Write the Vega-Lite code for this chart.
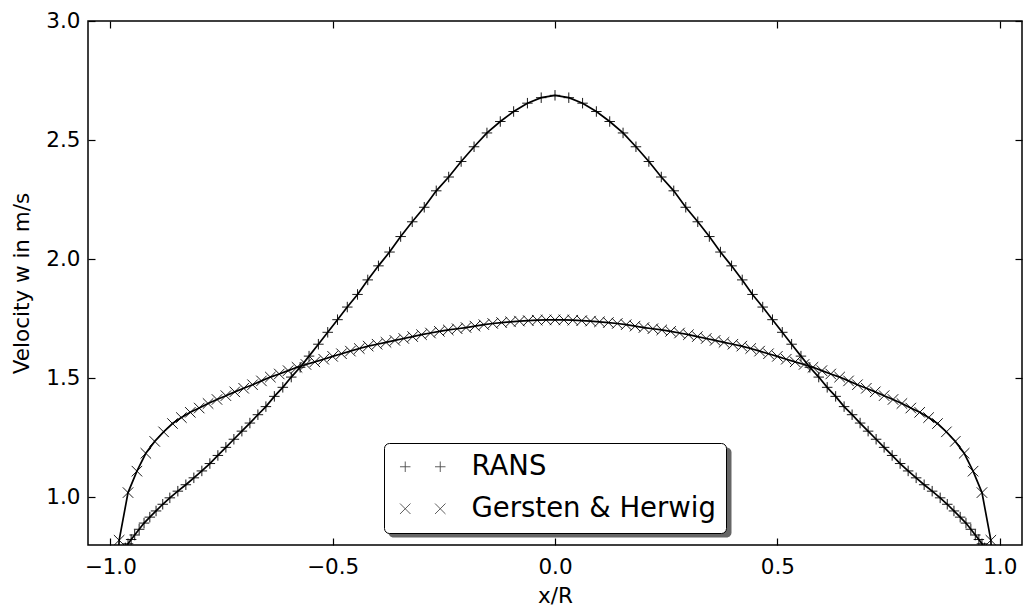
{
  "$schema": "https://vega.github.io/schema/vega-lite/v6.json",
  "width": 934,
  "height": 524,
  "autosize": {"type": "none"},
  "padding": {"left": 88, "top": 21, "right": 2, "bottom": 67},
  "background": "white",
  "config": {
    "font": "DejaVu Sans",
    "view": {"stroke": "black", "strokeWidth": 1.5},
    "axis": {"grid": false, "domain": false, "tickColor": "black", "tickSize": -7, "tickWidth": 1.2,
      "labelFont": "DejaVu Sans", "labelFontSize": 21.5, "labelColor": "black",
      "titleFont": "DejaVu Sans", "titleFontSize": 21.5, "titleFontWeight": "normal", "titleColor": "black"},
    "legend": {"title": null, "orient": "none", "padding": 10, "labelFontSize": 27.5, "labelFont": "DejaVu Sans", "labelLimit": 600,
      "symbolSize": 110, "symbolOffset": 15, "labelOffset": 35, "rowPadding": 13, "cornerRadius": 5}
  },
  "data": {"values": [
    {"model": "RANS", "x": -0.975, "w": 0.758},
    {"model": "RANS", "x": -0.971, "w": 0.772},
    {"model": "RANS", "x": -0.966, "w": 0.788},
    {"model": "RANS", "x": -0.960, "w": 0.805},
    {"model": "RANS", "x": -0.953, "w": 0.823},
    {"model": "RANS", "x": -0.945, "w": 0.842},
    {"model": "RANS", "x": -0.935, "w": 0.866},
    {"model": "RANS", "x": -0.924, "w": 0.892},
    {"model": "RANS", "x": -0.911, "w": 0.917},
    {"model": "RANS", "x": -0.897, "w": 0.943},
    {"model": "RANS", "x": -0.882, "w": 0.971},
    {"model": "RANS", "x": -0.866, "w": 0.998},
    {"model": "RANS", "x": -0.848, "w": 1.026},
    {"model": "RANS", "x": -0.830, "w": 1.053},
    {"model": "RANS", "x": -0.812, "w": 1.082},
    {"model": "RANS", "x": -0.794, "w": 1.111},
    {"model": "RANS", "x": -0.776, "w": 1.142},
    {"model": "RANS", "x": -0.758, "w": 1.176},
    {"model": "RANS", "x": -0.740, "w": 1.210},
    {"model": "RANS", "x": -0.722, "w": 1.244},
    {"model": "RANS", "x": -0.704, "w": 1.278},
    {"model": "RANS", "x": -0.686, "w": 1.312},
    {"model": "RANS", "x": -0.668, "w": 1.347},
    {"model": "RANS", "x": -0.650, "w": 1.381},
    {"model": "RANS", "x": -0.631, "w": 1.424},
    {"model": "RANS", "x": -0.612, "w": 1.462},
    {"model": "RANS", "x": -0.593, "w": 1.505},
    {"model": "RANS", "x": -0.573, "w": 1.546},
    {"model": "RANS", "x": -0.553, "w": 1.593},
    {"model": "RANS", "x": -0.532, "w": 1.643},
    {"model": "RANS", "x": -0.511, "w": 1.693},
    {"model": "RANS", "x": -0.489, "w": 1.746},
    {"model": "RANS", "x": -0.467, "w": 1.799},
    {"model": "RANS", "x": -0.444, "w": 1.852},
    {"model": "RANS", "x": -0.421, "w": 1.913},
    {"model": "RANS", "x": -0.397, "w": 1.972},
    {"model": "RANS", "x": -0.372, "w": 2.030},
    {"model": "RANS", "x": -0.347, "w": 2.095},
    {"model": "RANS", "x": -0.321, "w": 2.157},
    {"model": "RANS", "x": -0.294, "w": 2.218},
    {"model": "RANS", "x": -0.267, "w": 2.287},
    {"model": "RANS", "x": -0.239, "w": 2.345},
    {"model": "RANS", "x": -0.211, "w": 2.410},
    {"model": "RANS", "x": -0.182, "w": 2.472},
    {"model": "RANS", "x": -0.153, "w": 2.530},
    {"model": "RANS", "x": -0.123, "w": 2.578},
    {"model": "RANS", "x": -0.093, "w": 2.620},
    {"model": "RANS", "x": -0.062, "w": 2.655},
    {"model": "RANS", "x": -0.031, "w": 2.678},
    {"model": "RANS", "x": 0.0, "w": 2.688},
    {"model": "RANS", "x": 0.031, "w": 2.678},
    {"model": "RANS", "x": 0.062, "w": 2.655},
    {"model": "RANS", "x": 0.093, "w": 2.620},
    {"model": "RANS", "x": 0.123, "w": 2.578},
    {"model": "RANS", "x": 0.153, "w": 2.530},
    {"model": "RANS", "x": 0.182, "w": 2.472},
    {"model": "RANS", "x": 0.211, "w": 2.410},
    {"model": "RANS", "x": 0.239, "w": 2.345},
    {"model": "RANS", "x": 0.267, "w": 2.287},
    {"model": "RANS", "x": 0.294, "w": 2.218},
    {"model": "RANS", "x": 0.321, "w": 2.157},
    {"model": "RANS", "x": 0.347, "w": 2.095},
    {"model": "RANS", "x": 0.372, "w": 2.030},
    {"model": "RANS", "x": 0.397, "w": 1.972},
    {"model": "RANS", "x": 0.421, "w": 1.913},
    {"model": "RANS", "x": 0.444, "w": 1.852},
    {"model": "RANS", "x": 0.467, "w": 1.799},
    {"model": "RANS", "x": 0.489, "w": 1.746},
    {"model": "RANS", "x": 0.511, "w": 1.693},
    {"model": "RANS", "x": 0.532, "w": 1.643},
    {"model": "RANS", "x": 0.553, "w": 1.593},
    {"model": "RANS", "x": 0.573, "w": 1.546},
    {"model": "RANS", "x": 0.593, "w": 1.505},
    {"model": "RANS", "x": 0.612, "w": 1.462},
    {"model": "RANS", "x": 0.631, "w": 1.424},
    {"model": "RANS", "x": 0.650, "w": 1.381},
    {"model": "RANS", "x": 0.668, "w": 1.347},
    {"model": "RANS", "x": 0.686, "w": 1.312},
    {"model": "RANS", "x": 0.704, "w": 1.278},
    {"model": "RANS", "x": 0.722, "w": 1.244},
    {"model": "RANS", "x": 0.740, "w": 1.210},
    {"model": "RANS", "x": 0.758, "w": 1.176},
    {"model": "RANS", "x": 0.776, "w": 1.142},
    {"model": "RANS", "x": 0.794, "w": 1.111},
    {"model": "RANS", "x": 0.812, "w": 1.082},
    {"model": "RANS", "x": 0.830, "w": 1.053},
    {"model": "RANS", "x": 0.848, "w": 1.026},
    {"model": "RANS", "x": 0.866, "w": 0.998},
    {"model": "RANS", "x": 0.882, "w": 0.971},
    {"model": "RANS", "x": 0.897, "w": 0.943},
    {"model": "RANS", "x": 0.911, "w": 0.917},
    {"model": "RANS", "x": 0.924, "w": 0.892},
    {"model": "RANS", "x": 0.935, "w": 0.866},
    {"model": "RANS", "x": 0.945, "w": 0.842},
    {"model": "RANS", "x": 0.953, "w": 0.823},
    {"model": "RANS", "x": 0.960, "w": 0.805},
    {"model": "RANS", "x": 0.966, "w": 0.788},
    {"model": "RANS", "x": 0.971, "w": 0.772},
    {"model": "RANS", "x": 0.975, "w": 0.758},
    {"model": "Gersten & Herwig", "x": -1.00, "w": 0.0},
    {"model": "Gersten & Herwig", "x": -0.98, "w": 0.820},
    {"model": "Gersten & Herwig", "x": -0.96, "w": 1.020},
    {"model": "Gersten & Herwig", "x": -0.94, "w": 1.110},
    {"model": "Gersten & Herwig", "x": -0.92, "w": 1.185},
    {"model": "Gersten & Herwig", "x": -0.90, "w": 1.235},
    {"model": "Gersten & Herwig", "x": -0.88, "w": 1.275},
    {"model": "Gersten & Herwig", "x": -0.86, "w": 1.310},
    {"model": "Gersten & Herwig", "x": -0.84, "w": 1.335},
    {"model": "Gersten & Herwig", "x": -0.82, "w": 1.357},
    {"model": "Gersten & Herwig", "x": -0.80, "w": 1.375},
    {"model": "Gersten & Herwig", "x": -0.78, "w": 1.394},
    {"model": "Gersten & Herwig", "x": -0.76, "w": 1.411},
    {"model": "Gersten & Herwig", "x": -0.74, "w": 1.427},
    {"model": "Gersten & Herwig", "x": -0.72, "w": 1.443},
    {"model": "Gersten & Herwig", "x": -0.70, "w": 1.458},
    {"model": "Gersten & Herwig", "x": -0.68, "w": 1.473},
    {"model": "Gersten & Herwig", "x": -0.66, "w": 1.489},
    {"model": "Gersten & Herwig", "x": -0.64, "w": 1.505},
    {"model": "Gersten & Herwig", "x": -0.62, "w": 1.518},
    {"model": "Gersten & Herwig", "x": -0.60, "w": 1.532},
    {"model": "Gersten & Herwig", "x": -0.58, "w": 1.546},
    {"model": "Gersten & Herwig", "x": -0.56, "w": 1.558},
    {"model": "Gersten & Herwig", "x": -0.54, "w": 1.569},
    {"model": "Gersten & Herwig", "x": -0.52, "w": 1.580},
    {"model": "Gersten & Herwig", "x": -0.50, "w": 1.592},
    {"model": "Gersten & Herwig", "x": -0.48, "w": 1.603},
    {"model": "Gersten & Herwig", "x": -0.46, "w": 1.614},
    {"model": "Gersten & Herwig", "x": -0.44, "w": 1.625},
    {"model": "Gersten & Herwig", "x": -0.42, "w": 1.635},
    {"model": "Gersten & Herwig", "x": -0.40, "w": 1.643},
    {"model": "Gersten & Herwig", "x": -0.38, "w": 1.651},
    {"model": "Gersten & Herwig", "x": -0.36, "w": 1.659},
    {"model": "Gersten & Herwig", "x": -0.34, "w": 1.667},
    {"model": "Gersten & Herwig", "x": -0.32, "w": 1.675},
    {"model": "Gersten & Herwig", "x": -0.30, "w": 1.683},
    {"model": "Gersten & Herwig", "x": -0.28, "w": 1.690},
    {"model": "Gersten & Herwig", "x": -0.26, "w": 1.697},
    {"model": "Gersten & Herwig", "x": -0.24, "w": 1.703},
    {"model": "Gersten & Herwig", "x": -0.22, "w": 1.708},
    {"model": "Gersten & Herwig", "x": -0.20, "w": 1.713},
    {"model": "Gersten & Herwig", "x": -0.18, "w": 1.719},
    {"model": "Gersten & Herwig", "x": -0.16, "w": 1.725},
    {"model": "Gersten & Herwig", "x": -0.14, "w": 1.730},
    {"model": "Gersten & Herwig", "x": -0.12, "w": 1.734},
    {"model": "Gersten & Herwig", "x": -0.10, "w": 1.737},
    {"model": "Gersten & Herwig", "x": -0.08, "w": 1.740},
    {"model": "Gersten & Herwig", "x": -0.06, "w": 1.742},
    {"model": "Gersten & Herwig", "x": -0.04, "w": 1.744},
    {"model": "Gersten & Herwig", "x": -0.02, "w": 1.745},
    {"model": "Gersten & Herwig", "x": 0.00, "w": 1.745},
    {"model": "Gersten & Herwig", "x": 0.02, "w": 1.745},
    {"model": "Gersten & Herwig", "x": 0.04, "w": 1.744},
    {"model": "Gersten & Herwig", "x": 0.06, "w": 1.742},
    {"model": "Gersten & Herwig", "x": 0.08, "w": 1.740},
    {"model": "Gersten & Herwig", "x": 0.10, "w": 1.737},
    {"model": "Gersten & Herwig", "x": 0.12, "w": 1.734},
    {"model": "Gersten & Herwig", "x": 0.14, "w": 1.730},
    {"model": "Gersten & Herwig", "x": 0.16, "w": 1.725},
    {"model": "Gersten & Herwig", "x": 0.18, "w": 1.719},
    {"model": "Gersten & Herwig", "x": 0.20, "w": 1.713},
    {"model": "Gersten & Herwig", "x": 0.22, "w": 1.708},
    {"model": "Gersten & Herwig", "x": 0.24, "w": 1.703},
    {"model": "Gersten & Herwig", "x": 0.26, "w": 1.697},
    {"model": "Gersten & Herwig", "x": 0.28, "w": 1.690},
    {"model": "Gersten & Herwig", "x": 0.30, "w": 1.683},
    {"model": "Gersten & Herwig", "x": 0.32, "w": 1.675},
    {"model": "Gersten & Herwig", "x": 0.34, "w": 1.667},
    {"model": "Gersten & Herwig", "x": 0.36, "w": 1.659},
    {"model": "Gersten & Herwig", "x": 0.38, "w": 1.651},
    {"model": "Gersten & Herwig", "x": 0.40, "w": 1.643},
    {"model": "Gersten & Herwig", "x": 0.42, "w": 1.635},
    {"model": "Gersten & Herwig", "x": 0.44, "w": 1.625},
    {"model": "Gersten & Herwig", "x": 0.46, "w": 1.614},
    {"model": "Gersten & Herwig", "x": 0.48, "w": 1.603},
    {"model": "Gersten & Herwig", "x": 0.50, "w": 1.592},
    {"model": "Gersten & Herwig", "x": 0.52, "w": 1.580},
    {"model": "Gersten & Herwig", "x": 0.54, "w": 1.569},
    {"model": "Gersten & Herwig", "x": 0.56, "w": 1.558},
    {"model": "Gersten & Herwig", "x": 0.58, "w": 1.546},
    {"model": "Gersten & Herwig", "x": 0.60, "w": 1.532},
    {"model": "Gersten & Herwig", "x": 0.62, "w": 1.518},
    {"model": "Gersten & Herwig", "x": 0.64, "w": 1.505},
    {"model": "Gersten & Herwig", "x": 0.66, "w": 1.489},
    {"model": "Gersten & Herwig", "x": 0.68, "w": 1.473},
    {"model": "Gersten & Herwig", "x": 0.70, "w": 1.458},
    {"model": "Gersten & Herwig", "x": 0.72, "w": 1.443},
    {"model": "Gersten & Herwig", "x": 0.74, "w": 1.427},
    {"model": "Gersten & Herwig", "x": 0.76, "w": 1.411},
    {"model": "Gersten & Herwig", "x": 0.78, "w": 1.394},
    {"model": "Gersten & Herwig", "x": 0.80, "w": 1.375},
    {"model": "Gersten & Herwig", "x": 0.82, "w": 1.357},
    {"model": "Gersten & Herwig", "x": 0.84, "w": 1.335},
    {"model": "Gersten & Herwig", "x": 0.86, "w": 1.310},
    {"model": "Gersten & Herwig", "x": 0.88, "w": 1.275},
    {"model": "Gersten & Herwig", "x": 0.90, "w": 1.235},
    {"model": "Gersten & Herwig", "x": 0.92, "w": 1.185},
    {"model": "Gersten & Herwig", "x": 0.94, "w": 1.110},
    {"model": "Gersten & Herwig", "x": 0.96, "w": 1.020},
    {"model": "Gersten & Herwig", "x": 0.98, "w": 0.820},
    {"model": "Gersten & Herwig", "x": 1.00, "w": 0.0}
  ]},
  "resolve": {"axis": {"x": "independent", "y": "independent"}, "scale": {"shape": "independent"}, "legend": {"shape": "independent"}},
  "layer": [
    {
      "mark": {"type": "line", "color": "black", "strokeWidth": 1.7, "clip": true},
      "encoding": {
        "x": {"field": "x", "type": "quantitative", "scale": {"domain": [-1.05, 1.05], "nice": false, "zero": false},
          "axis": {"orient": "bottom", "title": "x/R", "values": [-1, -0.5, 0, 0.5, 1], "format": ".1f", "labelPadding": 18, "titlePadding": 8, "labelFlush": false}},
        "y": {"field": "w", "type": "quantitative", "scale": {"domain": [0.8, 3.0], "nice": false, "zero": false},
          "axis": {"orient": "left", "title": "Velocity w in m/s", "values": [1.0, 1.5, 2.0, 2.5, 3.0], "format": ".1f", "labelPadding": 15, "titlePadding": 12, "labelFlush": false}},
        "detail": {"field": "model"}
      }
    },
    {
      "mark": {"type": "point", "filled": false, "stroke": "black", "strokeWidth": 0.9, "size": 110, "opacity": 1, "clip": true},
      "encoding": {
        "x": {"field": "x", "type": "quantitative", "scale": {"domain": [-1.05, 1.05], "nice": false, "zero": false},
          "axis": {"orient": "top", "title": null, "labels": false, "values": [-1, -0.5, 0, 0.5, 1]}},
        "y": {"field": "w", "type": "quantitative", "scale": {"domain": [0.8, 3.0], "nice": false, "zero": false},
          "axis": {"orient": "right", "title": null, "labels": false, "values": [1.0, 1.5, 2.0, 2.5, 3.0]}},
        "shape": {"field": "model", "type": "nominal",
          "scale": {"domain": ["RANS", "Gersten & Herwig"], "range": ["M-1,0H1M0,-1V1", "M-1,-1L1,1M-1,1L1,-1"]},
          "legend": null}
      }
    },
    {
      "data": {"values": []},
      "mark": {"type": "point", "filled": false, "stroke": "black", "strokeWidth": 0.9, "size": 110},
      "encoding": {
        "shape": {"field": "model", "type": "nominal",
          "scale": {"domain": ["RANS", "Gersten & Herwig"], "range": ["M-1,0H1M0,-1V1", "M-1,-1L1,1M-1,1L1,-1"]},
          "legend": {"legendX": 300, "legendY": 426, "fillColor": "#666666", "strokeColor": "transparent",
            "labelExpr": "''", "labelOffset": 280,
            "symbolStrokeColor": "transparent", "symbolFillColor": "transparent", "symbolOpacity": 0}}
      }
    },
    {
      "data": {"values": []},
      "mark": {"type": "point", "filled": false, "stroke": "black", "strokeWidth": 0.9, "size": 110},
      "encoding": {
        "shape": {"field": "model", "type": "nominal",
          "scale": {"domain": ["RANS", "Gersten & Herwig"],
            "range": ["M-4.34,0H-2.34M-3.34,-1V1M2.34,0H4.34M3.34,-1V1", "M-4.34,-1L-2.34,1M-4.34,1L-2.34,-1M2.34,-1L4.34,1M2.34,1L4.34,-1"]},
          "legend": {"legendX": 296, "legendY": 422, "fillColor": "white", "strokeColor": "black", "labelColor": "black",
            "symbolStrokeColor": "black", "symbolStrokeWidth": 0.9, "symbolFillColor": "transparent",
            "encode": {"legend": {"strokeWidth": {"value": 1.5}}}}}
      }
    }
  ]
}
